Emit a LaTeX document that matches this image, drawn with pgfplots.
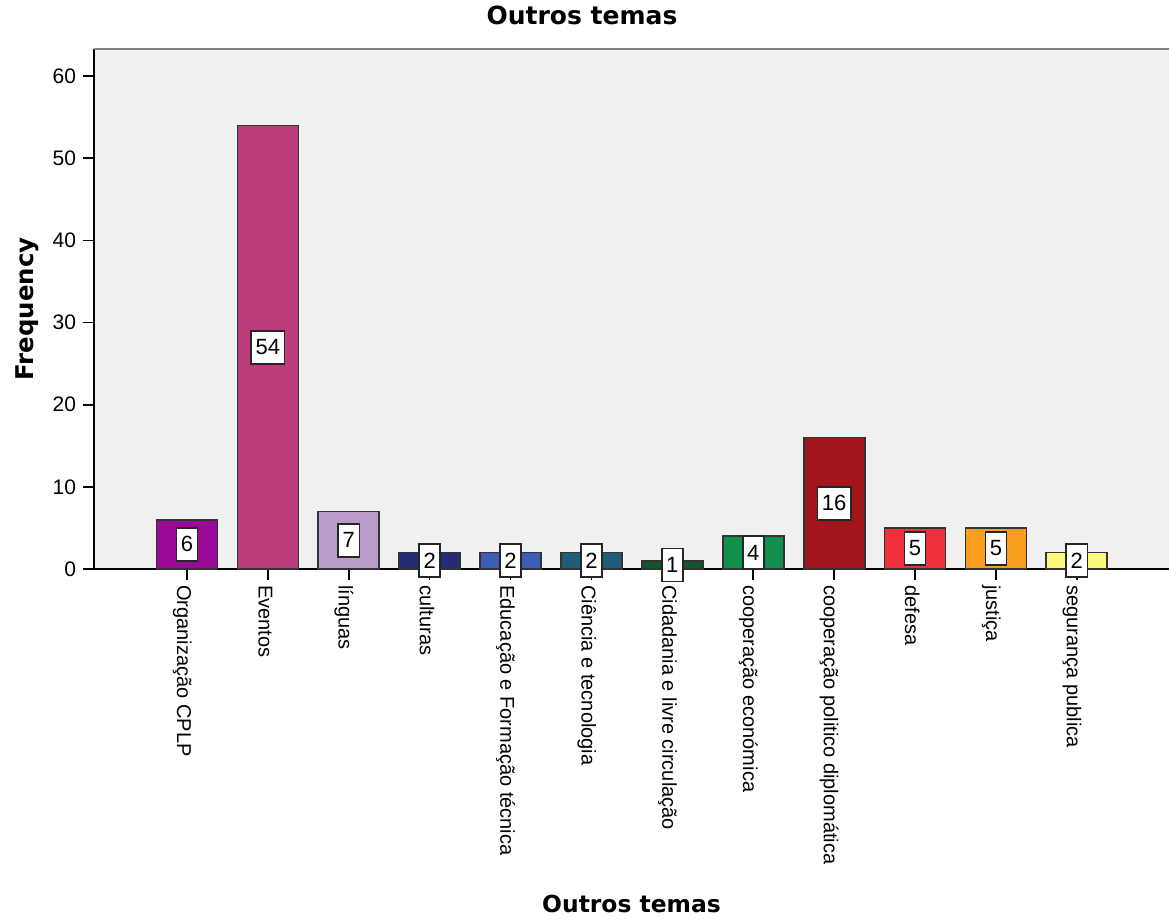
\documentclass[border=0pt]{standalone}
\usepackage{fontspec}
\setmainfont{Liberation Sans}
\newfontfamily\titlefont{DejaVu Sans}
\usepackage{pgfplots}
\usepackage{pgfplotstable}
\pgfplotsset{compat=1.18}
\definecolor{bgc}{HTML}{F0F0F0}
\definecolor{c1}{HTML}{990A99}
\definecolor{c2}{HTML}{BA3C7B}
\definecolor{c3}{HTML}{BB9ACC}
\definecolor{c4}{HTML}{262B78}
\definecolor{c5}{HTML}{3D5CB5}
\definecolor{c6}{HTML}{1F5E78}
\definecolor{c7}{HTML}{0C572D}
\definecolor{c8}{HTML}{10904B}
\definecolor{c9}{HTML}{A0161B}
\definecolor{c10}{HTML}{EE303D}
\definecolor{c11}{HTML}{F89D1F}
\definecolor{c12}{HTML}{FAF978}
\pgfplotsset{mybar/.style={ybar, bar width=30.5pt, bar shift=0pt, draw=black!80, line width=0.9pt}}
\pgfplotstableread{
x y
0 6
1 54
2 7
3 2
4 2
5 2
6 1
7 4
8 16
9 5
10 5
11 2
}\datatable
\begin{document}
\begin{tikzpicture}
\path[use as bounding box] (-47pt,-174.5pt) rectangle (537.5pt,284.5pt);
\begin{axis}[
  at={(0,0)}, anchor=south west,
  scale only axis, width=537.5pt, height=260pt,
  xmin=-1.15, xmax=12.14, ymin=0, ymax=63.3,
  axis lines=left, axis line style={-, line width=0.8pt, black},
  axis background/.style={fill=bgc},
  tick align=outside, major tick length=5.5pt,
  tick style={black, line width=0.8pt},
  ytick={0,10,20,30,40,50,60},
  xtick={0,1,2,3,4,5,6,7,8,9,10,11},
  xticklabels={Organização CPLP, Eventos, línguas, culturas, Educação e Formação técnica, Ciência e tecnologia, Cidadania e livre circulação, cooperação económica, cooperação politico diplomática, defesa, justiça, segurança publica},
  /pgf/number format/assume math mode=true,
  yticklabel style={font=\fontsize{10.5}{12}\selectfont},
  xticklabel style={font=\fontsize{10}{12}\selectfont, rotate=-90, anchor=north west, inner sep=0pt, xshift=2.5pt, yshift=2.5pt},
  title={Outros temas},
  title style={font=\titlefont\bfseries\fontsize{12.5}{14}\selectfont, at={(axis description cs:0.454,1)}, anchor=base, yshift=6.5pt},
  xlabel={Outros temas},
  xlabel style={font=\titlefont\bfseries\fontsize{11.7}{14}\selectfont, at={(axis description cs:0.5,0)}, anchor=base, yshift=-171.5pt},
  ylabel={Frequency},
  ylabel style={font=\titlefont\bfseries\fontsize{12.2}{14}\selectfont, at={(axis description cs:-0.0567,0.5)}, anchor=base},
  clip=false,
]
\addplot[mybar, fill=c1] coordinates {(0,6)};
\addplot[mybar, fill=c2] coordinates {(1,54)};
\addplot[mybar, fill=c3] coordinates {(2,7)};
\addplot[mybar, fill=c4] coordinates {(3,2)};
\addplot[mybar, fill=c5] coordinates {(4,2)};
\addplot[mybar, fill=c6] coordinates {(5,2)};
\addplot[mybar, fill=c7] coordinates {(6,1)};
\addplot[mybar, fill=c8] coordinates {(7,4)};
\addplot[mybar, fill=c9] coordinates {(8,16)};
\addplot[mybar, fill=c10] coordinates {(9,5)};
\addplot[mybar, fill=c11] coordinates {(10,5)};
\addplot[mybar, fill=c12] coordinates {(11,2)};
\addplot[draw=none, mark=none, sharp plot, point meta=explicit,
  nodes near coords,
  nodes near coords style={anchor=center, font=\fontsize{11}{12}\selectfont, draw=black!85, line width=0.8pt, fill=white, minimum height=16.5pt, inner xsep=2.2pt, inner ysep=0pt}]
  table[x=x, y expr=\thisrow{y}/2, meta=y] {\datatable};
\draw[gray, line width=1.2pt] (rel axis cs:0,1) -- (rel axis cs:1,1);
\end{axis}
\end{tikzpicture}
\end{document}
